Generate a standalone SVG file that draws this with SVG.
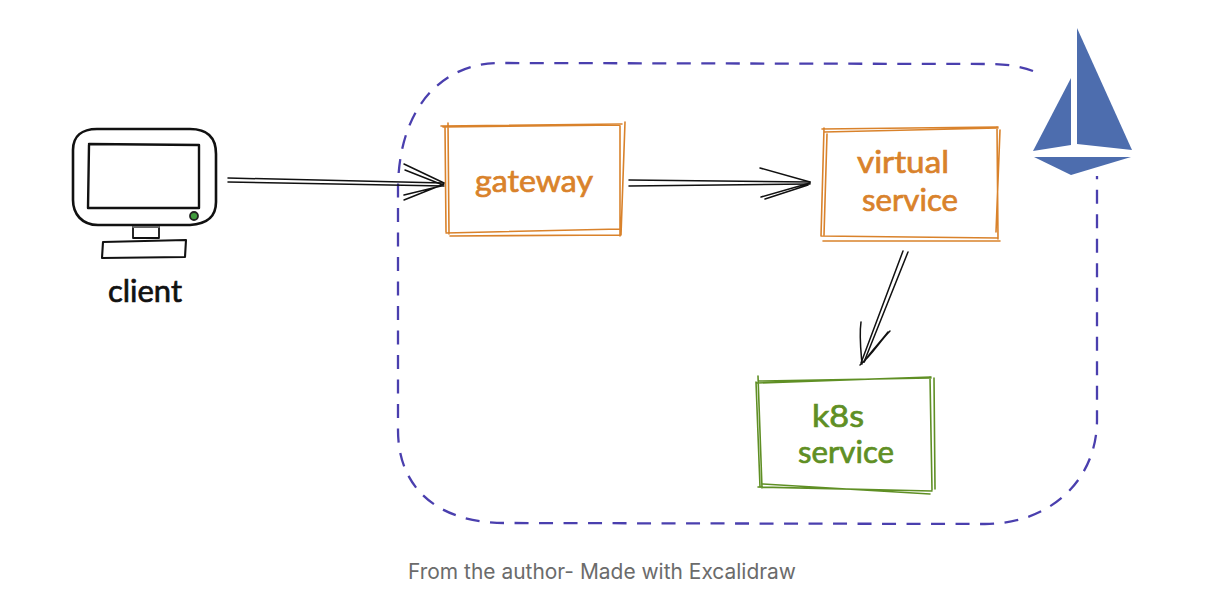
<svg xmlns="http://www.w3.org/2000/svg" width="1214" height="608" viewBox="0 0 1214 608">
<style>
.ink{fill:none;stroke:#111;stroke-linecap:round;stroke-linejoin:round}
.or{fill:none;stroke:#d9822b;stroke-width:1.6;stroke-linecap:round}
.gr{fill:none;stroke:#5f8f24;stroke-width:1.6;stroke-linecap:round}
.hand{font-family:"Lato","Noto Sans",sans-serif;font-size:31px;text-anchor:middle;stroke-width:.7}
.or-t{fill:#d9822b;stroke:#d9822b}.gr-t{fill:#5f8f24;stroke:#5f8f24}
</style>
<rect width="1214" height="608" fill="#fff"/>
<g id="boundary">
<path d="M1033 71C1020 66 1005 64 990 64L500 63C440 63 398 110 398 190L398 430C398 490 440 523 505 523L985 524C1050 524 1097 480 1097 420L1097 176" fill="none" stroke="#4a3fae" stroke-width="2.3" stroke-dasharray="14 10.5"/>
</g>
<g id="connectors">
<g class="ink" stroke-width="1.5">
<path d="M228 178L444 183M228 182L444 186"/>
<path d="M404 164L444 183M405 170L443 185M404 200L444 184M404 195L441 186"/>
<path d="M629 180L810 182M629 186L810 184"/>
<path d="M760 168L810 182M761 197L810 183M765 199L808 185"/>
<path d="M903 251L861 363M908 252L864 362"/>
<path d="M861 322C859 336 861 352 862 364M890 331C880 341 872 355 860 365M888 332C878 345 870 352 864 362"/>
</g>
</g>
<g id="client">
<g class="ink">
<path d="M97 129L190 129C208 129 216 138 216 154L216 202C216 218 206 224 190 225L98 225C82 225 73 214 73 200L73 150C73 136 82 129 97 129Z" stroke-width="2.6"/>
<path d="M89 144L199 145M88 208L199 208M89 145L88 208M199 145L199 208" stroke-width="2.4"/>
<path d="M133 225L133 238L159 238L159 225" stroke-width="1.8"/>
<path d="M133 227L159 227" stroke-width="2" stroke="#666"/>
<path d="M103 242L186 240L185 257L102 258Z" stroke-width="2.1"/>
</g>
<circle cx="194" cy="216" r="4" fill="#3f9a3c" stroke="#222" stroke-width="1.8"/>
<text class="hand" x="145" y="302" fill="#111" stroke="#111" textLength="74" lengthAdjust="spacingAndGlyphs">client</text>
</g>
<g id="gateway">
<path class="or" d="M441 126L622 124M443 127L620 125M448 123L449 234M445 126L446 232M620 126L620 236M625 122L621 235M446 233L620 229M450 236L620 235"/>
<text class="hand or-t" x="534" y="192" textLength="118" lengthAdjust="spacingAndGlyphs">gateway</text>
</g>
<g id="virtual-service">
<path class="or" d="M822 129L998 127M824 132L998 128M824 128L821 236M827 134L824 235M997 127L998 239M1000 130L996 232M821 236L998 238M823 241L1000 241"/>
<text class="hand or-t" x="903" y="173" textLength="92" lengthAdjust="spacingAndGlyphs">virtual</text>
<text class="hand or-t" x="910" y="211" textLength="96" lengthAdjust="spacingAndGlyphs">service</text>
</g>
<g id="k8s-service">
<path class="gr" d="M757 383L931 377M759 381L931 378M758 376L762 488M756 382L760 487M930 377L932 490M934 378L935 489M758 487L932 491M763 484L930 494"/>
<text class="hand gr-t" x="838" y="427" textLength="52" lengthAdjust="spacingAndGlyphs">k8s</text>
<text class="hand gr-t" x="846" y="463" textLength="96" lengthAdjust="spacingAndGlyphs">service</text>
</g>
<g id="sail-logo" fill="#4d6dae">
<path d="M1077 28L1132 150L1077 144Z"/>
<path d="M1071 78L1071 145L1033 151Z"/>
<path d="M1034 157L1131 157L1071 175Z"/>
</g>
<text id="caption" x="602" y="579" text-anchor="middle" font-family="Inter,'Liberation Sans',sans-serif" font-size="21" fill="#6b6b6b" textLength="388" lengthAdjust="spacingAndGlyphs">From the author- Made with Excalidraw</text>
</svg>
